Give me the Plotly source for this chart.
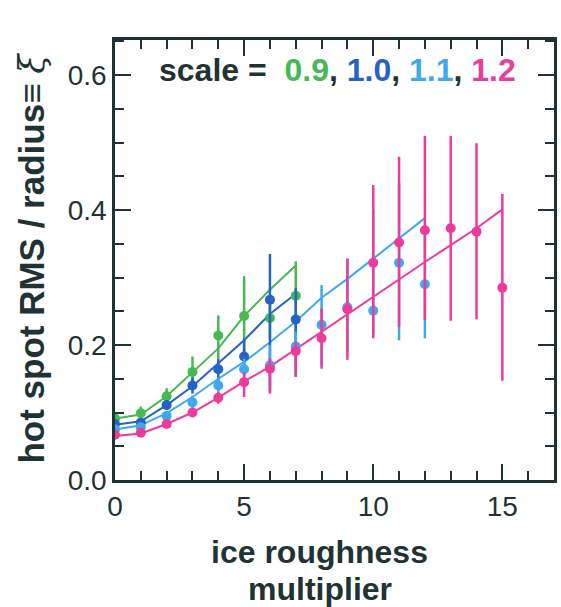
import plotly.graph_objects as go

# ---- data ----
x_green = [0, 1, 2, 3, 4, 5, 6, 7]
y_green = [0.091, 0.099, 0.124, 0.160, 0.214, 0.243, 0.240, 0.273]
hi_green = [0.095, 0.109, 0.136, 0.183, 0.244, 0.302, 0.270, 0.324]
lo_green = [0.087, 0.090, 0.114, 0.138, 0.180, 0.183, 0.210, 0.193]
fit_green = [0.091, 0.097, 0.124, 0.160, 0.195, 0.243, 0.282, 0.318]

x_blue = [0, 1, 2, 3, 4, 5, 6, 7]
y_blue = [0.083, 0.085, 0.111, 0.140, 0.164, 0.183, 0.267, 0.238]
hi_blue = [0.087, 0.090, 0.118, 0.152, 0.180, 0.210, 0.335, 0.284]
lo_blue = [0.079, 0.080, 0.104, 0.128, 0.148, 0.155, 0.131, 0.153]
fit_blue = [0.082, 0.087, 0.111, 0.139, 0.173, 0.207, 0.246, 0.276]

x_lblue = [0, 1, 2, 3, 4, 5, 6, 7, 8, 9, 10, 11, 12]
y_lblue = [0.075, 0.078, 0.095, 0.115, 0.140, 0.164, 0.170, 0.198, 0.230, 0.256, 0.251, 0.322, 0.290]
hi_lblue = [0.078, 0.082, 0.100, 0.125, 0.152, 0.180, 0.200, 0.220, 0.289, 0.328, 0.400, 0.440, 0.370]
lo_lblue = [0.072, 0.074, 0.090, 0.105, 0.128, 0.145, 0.140, 0.170, 0.170, 0.190, 0.215, 0.207, 0.210]
fit_lblue = [0.075, 0.081, 0.099, 0.123, 0.150, 0.175, 0.204, 0.235, 0.270, 0.298, 0.328, 0.358, 0.388]

x_mag = [0, 1, 2, 3, 4, 5, 6, 7, 8, 9, 10, 11, 12, 13, 14, 15]
y_mag = [0.067, 0.070, 0.083, 0.100, 0.122, 0.145, 0.165, 0.191, 0.210, 0.253,
         0.322, 0.352, 0.370, 0.373, 0.368, 0.285]
hi_mag = [0.070, 0.074, 0.088, 0.107, 0.130, 0.160, 0.180, 0.205, 0.254, 0.328,
          0.437, 0.479, 0.510, 0.510, 0.499, 0.424]
lo_mag = [0.063, 0.065, 0.078, 0.093, 0.113, 0.123, 0.128, 0.153, 0.165, 0.178,
          0.210, 0.227, 0.237, 0.236, 0.238, 0.147]
fit_mag = [0.065, 0.069, 0.083, 0.100, 0.122, 0.146, 0.168, 0.194, 0.220, 0.246,
           0.272, 0.297, 0.323, 0.348, 0.373, 0.401]

scale_labels = ["0.9", "1.0", "1.1", "1.2"]
x_title_lines = ["ice roughness", "multiplier"]
y_title = "hot spot RMS / radius\u2261 "
y_title_symbol = "\u03be"

# ---- styling ----
colors = ["#45b952", "#2563c6", "#3fa9ee", "#ee3a9c"]
ink = "#1f3334"
FONT = "Liberation Sans, Arial, sans-serif"

series = [
    (x_green, y_green, hi_green, lo_green, fit_green),
    (x_blue, y_blue, hi_blue, lo_blue, fit_blue),
    (x_lblue, y_lblue, hi_lblue, lo_lblue, fit_lblue),
    (x_mag, y_mag, hi_mag, lo_mag, fit_mag),
]

fig = go.Figure()
for (xs, ys, his, los, fits), c in zip(series, colors):
    fig.add_trace(go.Scatter(
        x=xs, y=fits, mode="lines",
        line=dict(color=c, width=2), showlegend=False, hoverinfo="skip"))
for (xs, ys, his, los, fits), c in zip(series, colors):
    plus = [h - y for h, y in zip(his, ys)]
    minus = [y - l for l, y in zip(los, ys)]
    fig.add_trace(go.Scatter(
        x=xs, y=ys, mode="markers",
        marker=dict(color=c, size=10),
        error_y=dict(type="data", symmetric=False, array=plus, arrayminus=minus,
                     color=c, thickness=2.5, width=0),
        showlegend=False))

# invisible trace to activate the mirrored (top/right) tick axes
fig.add_trace(go.Scatter(x=[0], y=[0], xaxis="x2", yaxis="y2", mode="markers",
                         marker=dict(opacity=0), showlegend=False, hoverinfo="skip"))

# plot area in pixels: left 115, right 557, top 40, bottom 480
L, R, T, B = 115, 557, 40, 480
def px_x(px):
    return (px - L) / (R - L)
def px_y(py):
    return (B - py) / (B - T)

legend_text = "<b>scale =  " + ", ".join(
    f"<span style='color:{c}'>{s}</span>" for s, c in zip(scale_labels, colors)) + "</b>"
fig.add_annotation(
    x=px_x(339), y=px_y(70), xref="paper", yref="paper", text=legend_text,
    showarrow=False, xanchor="center", yanchor="middle",
    font=dict(family=FONT, size=32, color=ink))

for line_text, ypix in zip(x_title_lines, [552, 589]):
    fig.add_annotation(
        x=px_x(321), y=px_y(ypix), xref="paper", yref="paper",
        text=f"<b>{line_text}</b>", showarrow=False,
        xanchor="center", yanchor="middle",
        font=dict(family=FONT, size=32, color=ink))

fig.add_annotation(
    x=px_x(31), y=px_y(258), xref="paper", yref="paper", textangle=-90,
    text=f"<b>{y_title}</b><span style='font-family:DejaVu Serif'><i>{y_title_symbol}</i></span>",
    showarrow=False, xanchor="center", yanchor="middle",
    font=dict(family=FONT, size=35, color=ink))

tick_common = dict(ticks="inside", tickcolor=ink, tickwidth=2, ticklen=16,
                   showgrid=False, zeroline=False)

fig.update_layout(
    xaxis=dict(
        range=[0, 17], dtick=5, tick0=0,
        showline=True, linecolor=ink, linewidth=2.5, mirror=True,
        minor=dict(dtick=1, ticks="inside", ticklen=9, tickwidth=2, tickcolor=ink),
        tickfont=dict(family=FONT, size=28, color=ink),
        **tick_common),
    yaxis=dict(
        range=[0, 0.652], dtick=0.2, tick0=0, tickformat=".1f",
        showline=True, linecolor=ink, linewidth=2.5, mirror=True,
        minor=dict(dtick=0.05, ticks="inside", ticklen=9, tickwidth=2, tickcolor=ink),
        tickfont=dict(family=FONT, size=28, color=ink),
        **tick_common),
    xaxis2=dict(
        range=[0, 17], dtick=5, tick0=0, overlaying="x", side="top", anchor="y2",
        showticklabels=False, showline=False,
        minor=dict(dtick=1, ticks="inside", ticklen=9, tickwidth=2, tickcolor=ink),
        **tick_common),
    yaxis2=dict(
        range=[0, 0.652], dtick=0.2, tick0=0, overlaying="y", side="right", anchor="x2",
        showticklabels=False, showline=False,
        minor=dict(dtick=0.05, ticks="inside", ticklen=9, tickwidth=2, tickcolor=ink),
        **tick_common),
    width=561, height=607,
    margin=dict(l=L, r=561 - R, t=T, b=607 - B),
    paper_bgcolor="white", plot_bgcolor="white",
)

fig.write_html("out.html")
